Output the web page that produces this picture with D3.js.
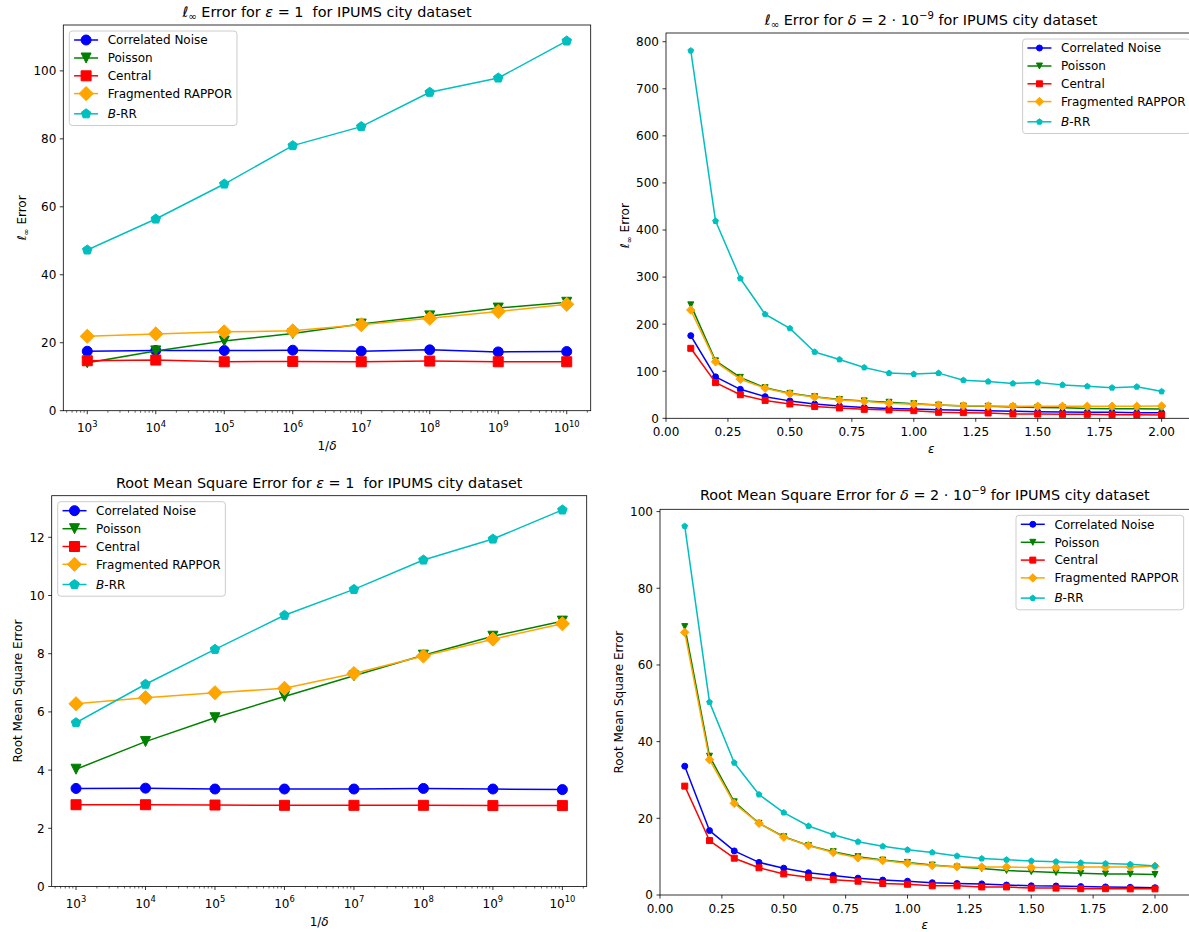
<!DOCTYPE html>
<html><head><meta charset="utf-8">
<script src="https://cdn.jsdelivr.net/npm/d3@7"></script>
<style>
body{margin:0;background:#fff}
svg text{font-family:"DejaVu Sans",sans-serif;fill:#000;white-space:pre}
</style>
</head><body>
<svg id="chart" width="1189" height="932" xmlns="http://www.w3.org/2000/svg"></svg>
<script>
// ---------------- data ----------------
const deltaInv = [1e3, 1e4, 1e5, 1e6, 1e7, 1e8, 1e9, 1e10];
const logTickExponents = [3, 4, 5, 6, 7, 8, 9, 10];
const epsilons = [0.1, 0.2, 0.3, 0.4, 0.5, 0.6, 0.7, 0.8, 0.9, 1.0, 1.1, 1.2, 1.3, 1.4, 1.5, 1.6, 1.7, 1.8, 1.9, 2.0];
const epsTicks = [0, 0.25, 0.5, 0.75, 1.0, 1.25, 1.5, 1.75, 2.0];
const seriesNames = ["Correlated Noise", "Poisson", "Central", "Fragmented RAPPOR", "B-RR"];

// l_inf error, eps = 1, vs 1/delta
const linfEps1Correlated = [17.5, 17.7, 17.7, 17.8, 17.5, 17.9, 17.3, 17.4];
const linfEps1Poisson    = [14.1, 17.6, 20.5, 22.7, 25.5, 27.9, 30.2, 31.9];
const linfEps1Central    = [14.7, 14.9, 14.4, 14.5, 14.4, 14.6, 14.4, 14.4];
const linfEps1Rappor     = [21.9, 22.6, 23.2, 23.5, 25.3, 27.2, 29.2, 31.3];
const linfEps1BRR        = [47.3, 56.4, 66.7, 78.0, 83.6, 93.7, 97.9, 108.8];
const linfEps1YTicks     = [0, 20, 40, 60, 80, 100];

// l_inf error, delta = 2e-9, vs eps
const linfDeltaCorrelated = [175.6, 88, 61.6, 46, 37, 30.4, 26, 23, 21, 20, 18, 17, 16, 15, 14, 13.5, 13, 12.7, 12, 12];
const linfDeltaPoisson    = [241, 122, 87, 65, 53, 46, 40, 37, 34, 31, 28, 26, 25.5, 24, 23, 22.5, 21, 20.5, 20.5, 20];
const linfDeltaCentral    = [148.7, 75.8, 50, 38, 30.4, 25, 22, 19, 17.7, 16.3, 12.7, 12, 11.3, 9.2, 9, 8.5, 8.5, 7.8, 7.8, 7];
const linfDeltaRappor     = [230, 120, 83, 64, 52, 45, 39, 36, 32, 30, 28, 26.5, 26, 25.5, 25.5, 25.5, 25.5, 25.5, 25.5, 26];
const linfDeltaBRR        = [781, 419, 297, 221, 191, 141, 125, 108, 96, 94, 96, 81, 78, 74, 76, 71, 68, 65, 67, 57];
const linfDeltaYTicks     = [0, 100, 200, 300, 400, 500, 600, 700, 800];

// RMSE, eps = 1, vs 1/delta
const rmseEps1Correlated = [3.37, 3.38, 3.35, 3.35, 3.35, 3.37, 3.35, 3.33];
const rmseEps1Poisson    = [4.03, 4.98, 5.80, 6.53, 7.24, 7.95, 8.60, 9.12];
const rmseEps1Central    = [2.81, 2.81, 2.80, 2.79, 2.79, 2.79, 2.78, 2.78];
const rmseEps1Rappor     = [6.28, 6.49, 6.66, 6.81, 7.32, 7.92, 8.50, 9.03];
const rmseEps1BRR        = [5.63, 6.95, 8.15, 9.32, 10.21, 11.22, 11.94, 12.94];
const rmseEps1YTicks     = [0, 2, 4, 6, 8, 10, 12];

// RMSE, delta = 2e-9, vs eps
const rmseDeltaCorrelated = [33.6, 16.8, 11.5, 8.5, 7.0, 5.8, 5.1, 4.4, 3.9, 3.6, 3.2, 3.0, 2.9, 2.6, 2.4, 2.35, 2.2, 2.1, 2.0, 1.9];
const rmseDeltaPoisson    = [70, 36.2, 24.3, 18.7, 15.2, 12.9, 11.3, 10.0, 9.1, 8.5, 7.8, 7.3, 6.9, 6.4, 6.1, 5.9, 5.65, 5.5, 5.45, 5.35];
const rmseDeltaCentral    = [28.4, 14.2, 9.6, 7.1, 5.5, 4.6, 4.0, 3.6, 3.0, 2.8, 2.4, 2.4, 2.1, 2.1, 1.8, 1.8, 1.65, 1.65, 1.6, 1.6];
const rmseDeltaRappor     = [68.5, 35.3, 23.9, 18.7, 15.1, 12.9, 11.1, 9.7, 9.0, 8.3, 7.7, 7.4, 7.3, 7.3, 7.2, 7.2, 7.3, 7.3, 7.3, 7.5];
const rmseDeltaBRR        = [96.2, 50.3, 34.5, 26.2, 21.5, 18.0, 15.7, 13.9, 12.7, 11.8, 11.1, 10.2, 9.5, 9.2, 8.9, 8.7, 8.4, 8.2, 8.0, 7.6];
const rmseDeltaYTicks     = [0, 20, 40, 60, 80, 100];

// ---------------- styles ----------------
const colors  = ["#0000ff", "#008000", "#ff0000", "#ffa500", "#00bfbf"];
const markers = ["o", "v", "s", "D", "p"];

const svg = d3.select("#chart");

function markerPath(type, ms) {
  const h = ms / 2;
  if (type === "o") return d3.path ? (() => { const p = d3.path(); p.arc(0, 0, h, 0, 2 * Math.PI); p.closePath(); return p.toString(); })() : "";
  if (type === "s") return `M${-h},${-h}L${h},${-h}L${h},${h}L${-h},${h}Z`;
  if (type === "v") return `M0,${h}L${-h},${-h}L${h},${-h}Z`;
  if (type === "D") { const d = ms * Math.SQRT1_2; return `M0,${-d}L${d},0L0,${d}L${-d},0Z`; }
  if (type === "p") {
    const pts = d3.range(5).map(i => { const a = -Math.PI / 2 + i * 2 * Math.PI / 5; return [h * Math.cos(a), h * Math.sin(a)]; });
    return "M" + pts.map(p => p.join(",")).join("L") + "Z";
  }
}

function rich(sel, parts, size) {
  let shift = 0;
  parts.forEach(p => {
    const t = typeof p === "string" ? p : p[0];
    const st = typeof p === "string" ? "" : p[1];
    const ts = sel.append("tspan").text(t);
    let target = 0, fs = size;
    if (st === "sub") { target = size * 0.22; fs = size * 0.7; }
    if (st === "sup") { target = -size * 0.42; fs = size * 0.7; }
    if (target !== shift) { ts.attr("dy", (target - shift).toFixed(2)); shift = target; }
    ts.attr("font-size", fs);
    if (st === "i") ts.attr("font-style", "italic");
  });
  return sel;
}

const brrLabel = [["B", "i"], "-RR"];

function drawPanel(cfg) {
  const g = svg.append("g");
  const { left, right, top, bottom } = cfg;
  let x;
  if (cfg.xType === "log") {
    x = d3.scaleLog().domain(cfg.xDomain).range([left, right]);
  } else {
    x = d3.scaleLinear().domain(cfg.xDomain).range([left, right]);
  }
  const y = d3.scaleLinear().domain(cfg.yDomain).range([bottom, top]);

  // x ticks
  const xt = g.append("g");
  if (cfg.xType === "log") {
    // minor ticks
    const minors = [];
    for (let k = 2; k <= 10; k++) for (let m = 2; m <= 9; m++) {
      const v = m * Math.pow(10, k);
      if (v >= cfg.xDomain[0] && v <= cfg.xDomain[1]) minors.push(v);
    }
    xt.selectAll("line.minor").data(minors).join("line")
      .attr("x1", d => x(d)).attr("x2", d => x(d))
      .attr("y1", bottom).attr("y2", bottom + 2)
      .attr("stroke", "#000").attr("stroke-width", 0.6);
    cfg.xTickExps.forEach(e => {
      const v = Math.pow(10, e);
      xt.append("line").attr("x1", x(v)).attr("x2", x(v)).attr("y1", bottom).attr("y2", bottom + 3.5)
        .attr("stroke", "#000").attr("stroke-width", 0.8);
      const t = xt.append("text").attr("x", x(v)).attr("y", bottom + 21).attr("text-anchor", "middle");
      rich(t, ["10", [String(e), "sup"]], 12);
    });
  } else {
    cfg.xTicks.forEach(v => {
      xt.append("line").attr("x1", x(v)).attr("x2", x(v)).attr("y1", bottom).attr("y2", bottom + 3.5)
        .attr("stroke", "#000").attr("stroke-width", 0.8);
      xt.append("text").attr("x", x(v)).attr("y", bottom + 17.7).attr("text-anchor", "middle")
        .attr("font-size", 12).text(d3.format(".2f")(v));
    });
  }

  // y ticks
  let maxW = 0;
  cfg.yTicks.forEach(v => {
    g.append("line").attr("x1", left - 3.5).attr("x2", left).attr("y1", y(v)).attr("y2", y(v))
      .attr("stroke", "#000").attr("stroke-width", 0.8);
    const t = g.append("text").attr("x", left - 7).attr("y", y(v) + 4.4).attr("text-anchor", "end")
      .attr("font-size", 12).text(String(v));
    maxW = Math.max(maxW, t.node().getComputedTextLength());
  });

  // series
  const ms = cfg.ms;
  cfg.series.forEach((s, i) => {
    const pts = cfg.xValues.map((xv, j) => [x(xv), y(s[j])]);
    g.append("path").attr("d", d3.line()(pts)).attr("fill", "none")
      .attr("stroke", colors[i]).attr("stroke-width", 1.5).attr("stroke-linejoin", "round").attr("stroke-linecap", "square");
    g.append("g").selectAll("path").data(pts).join("path")
      .attr("transform", d => `translate(${d[0]},${d[1]})`)
      .attr("d", markerPath(markers[i], ms))
      .attr("fill", colors[i]).attr("stroke", colors[i]).attr("stroke-width", 1).attr("stroke-linejoin", "miter");
  });

  // spines
  g.append("rect").attr("x", left).attr("y", top).attr("width", right - left).attr("height", bottom - top)
    .attr("fill", "none").attr("stroke", "#000").attr("stroke-width", 0.8);

  // title
  const tt = g.append("text").attr("x", (left + right) / 2).attr("y", top - cfg.titleOffset)
    .attr("text-anchor", "middle");
  rich(tt, cfg.title, 14.4);

  // x label
  const xl = g.append("text").attr("x", (left + right) / 2).attr("y", bottom + cfg.xLabelOffset)
    .attr("text-anchor", "middle");
  rich(xl, cfg.xLabel, 12);

  // y label
  const yx = left - 7 - maxW - 7;
  const yc = (top + bottom) / 2;
  const yl = g.append("text").attr("x", yx).attr("y", yc).attr("text-anchor", "middle")
    .attr("transform", `rotate(-90,${yx},${yc})`);
  rich(yl, cfg.yLabel, 12);

  // legend
  const lg = g.append("g");
  const rowOff = [9, 27, 44.8, 62.6, 82.8];
  const labels = seriesNames.map((n, i) => i === 4 ? brrLabel : [n]);
  const texts = [];
  let tw = 0;
  labels.forEach((lab, i) => {
    const t = lg.append("text").attr("y", rowOff[i] + 4.4);
    rich(t, lab, 12);
    texts.push(t);
    tw = Math.max(tw, t.node().getComputedTextLength());
  });
  const w = 4.8 + 24 + 9.6 + tw + 4.8;
  const h = 94.5;
  const lx = cfg.legend === "left" ? left + 6 : right - 6 - w;
  const ly = top + 6;
  lg.attr("transform", `translate(${lx},${ly})`);
  lg.insert("rect", ":first-child").attr("x", 0).attr("y", 0).attr("width", w).attr("height", h)
    .attr("rx", 3).attr("fill", "#fff").attr("fill-opacity", 0.8).attr("stroke", "#cccccc").attr("stroke-width", 1);
  labels.forEach((lab, i) => {
    texts[i].attr("x", 4.8 + 24 + 9.6);
    lg.append("line").attr("x1", 4.8).attr("x2", 28.8).attr("y1", rowOff[i]).attr("y2", rowOff[i])
      .attr("stroke", colors[i]).attr("stroke-width", 1.5);
    lg.append("path").attr("transform", `translate(16.8,${rowOff[i]})`).attr("d", markerPath(markers[i], ms))
      .attr("fill", colors[i]).attr("stroke", colors[i]).attr("stroke-width", 1);
  });
}

const linfT = [["ℓ", "i"], ["∞", "sub"]];

drawPanel({
  left: 63.3, right: 590.7, top: 25, bottom: 410.7,
  xType: "log", xDomain: [Math.pow(10, 2.65), Math.pow(10, 10.35)], xTickExps: logTickExponents,
  xValues: deltaInv, yDomain: [0, 113.5], yTicks: linfEps1YTicks, ms: 10,
  series: [linfEps1Correlated, linfEps1Poisson, linfEps1Central, linfEps1Rappor, linfEps1BRR],
  title: [...linfT, " Error for ", ["ε", "i"], " = 1  for IPUMS city dataset"], titleOffset: 7.7,
  xLabel: ["1/", ["δ", "i"]], xLabelOffset: 39.5,
  yLabel: [...linfT, " Error"], legend: "left"
});

drawPanel({
  left: 666, right: 666 + 2.14 * 247.8, top: 33, bottom: 418.3,
  xType: "lin", xDomain: [0, 2.14], xTicks: epsTicks,
  xValues: epsilons, yDomain: [0, 818.5], yTicks: linfDeltaYTicks, ms: 6,
  series: [linfDeltaCorrelated, linfDeltaPoisson, linfDeltaCentral, linfDeltaRappor, linfDeltaBRR],
  title: [...linfT, " Error for ", ["δ", "i"], " = 2 · 10", ["−9", "sup"], " for IPUMS city dataset"], titleOffset: 8,
  xLabel: [["ε", "i"]], xLabelOffset: 34.2,
  yLabel: [...linfT, " Error"], legend: "right"
});

drawPanel({
  left: 51.7, right: 586.7, top: 495.7, bottom: 886.5,
  xType: "log", xDomain: [Math.pow(10, 2.65), Math.pow(10, 10.35)], xTickExps: logTickExponents,
  xValues: deltaInv, yDomain: [0, 13.43], yTicks: rmseEps1YTicks, ms: 10,
  series: [rmseEps1Correlated, rmseEps1Poisson, rmseEps1Central, rmseEps1Rappor, rmseEps1BRR],
  title: ["Root Mean Square Error for ", ["ε", "i"], " = 1  for IPUMS city dataset"], titleOffset: 8,
  xLabel: ["1/", ["δ", "i"]], xLabelOffset: 39.5,
  yLabel: ["Root Mean Square Error"], legend: "left"
});

drawPanel({
  left: 660, right: 660 + 2.14 * 247.5, top: 509.3, bottom: 895,
  xType: "lin", xDomain: [0, 2.14], xTicks: epsTicks,
  xValues: epsilons, yDomain: [0, 100.6], yTicks: rmseDeltaYTicks, ms: 6,
  series: [rmseDeltaCorrelated, rmseDeltaPoisson, rmseDeltaCentral, rmseDeltaRappor, rmseDeltaBRR],
  title: ["Root Mean Square Error for ", ["δ", "i"], " = 2 · 10", ["−9", "sup"], " for IPUMS city dataset"], titleOffset: 9.3,
  xLabel: [["ε", "i"]], xLabelOffset: 33.5,
  yLabel: ["Root Mean Square Error"], legend: "right"
});
</script>
</body></html>
